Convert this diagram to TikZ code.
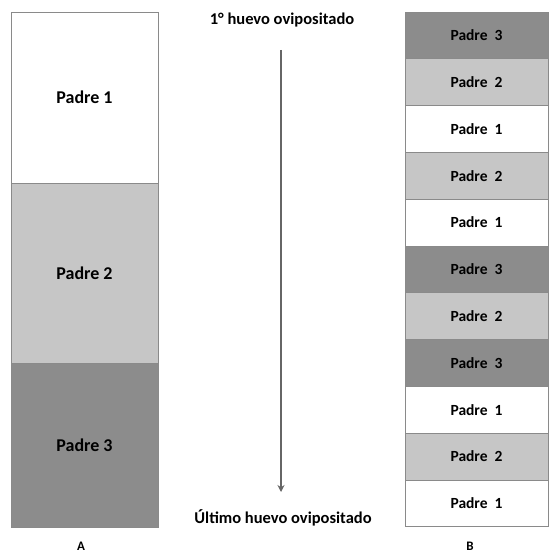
\documentclass[tikz,border=0pt]{standalone}
\usepackage{fontspec}
\setmainfont{Carlito}
\usetikzlibrary{arrows.meta}
\definecolor{pone}{HTML}{FFFFFF}
\definecolor{ptwo}{HTML}{C6C6C6}
\definecolor{pthree}{HTML}{8C8C8C}
\definecolor{sepc}{HTML}{8A8A8A}
\tikzset{
  blk/.style={draw=sepc, line width=0.9pt, inner sep=0pt, font=\fontsize{18}{20}\selectfont\bfseries},
  stripe/.style={blk, minimum width=143pt, minimum height=46.8pt, font=\fontsize{15.5}{18}\selectfont\bfseries},
  big/.style={blk, minimum width=147pt},
  ttl/.style={font=\fontsize{16.5}{18}\selectfont\bfseries, inner sep=0pt},
  lbl/.style={font=\fontsize{13}{15}\selectfont\bfseries, inner sep=0pt}
}
\begin{document}
\begin{tikzpicture}[x=1pt,y=-1pt]
\useasboundingbox (0,0) rectangle (548,556);
% column A
\node[big, fill=pone, minimum height=171pt] (a1) at (84.5,97.5) {Padre 1};
\node[big, fill=ptwo, minimum height=180pt] (a2) at (84.5,273) {Padre 2};
\node[big, fill=pthree, minimum height=164pt] (a3) at (84.5,445) {Padre 3};
\node[lbl] (la) at (81,546) {A};
% column B
\foreach \n/\c/\t [count=\i] in {b1/pthree/3, b2/ptwo/2, b3/pone/1, b4/ptwo/2, b5/pone/1, b6/pthree/3, b7/ptwo/2, b8/pthree/3, b9/pone/1, b10/ptwo/2, b11/pone/1}{
  \node[stripe, fill=\c] (\n) at (476.5,{12+46.8*(\i-0.5)}) {Padre\ \ \t};
}
\node[lbl] (lb) at (470,546) {B};
% arrow
\node[ttl] (top) at (282,20) {1° huevo ovipositado};
\node[ttl] (bot) at (283,518) {Último huevo ovipositado};
\coordinate (s) at (281,50);
\coordinate (e) at (281,492);
\draw[black!60, line width=2pt, -{Stealth[length=7pt,width=7pt]}] (s) -- (e);
\end{tikzpicture}
\end{document}
